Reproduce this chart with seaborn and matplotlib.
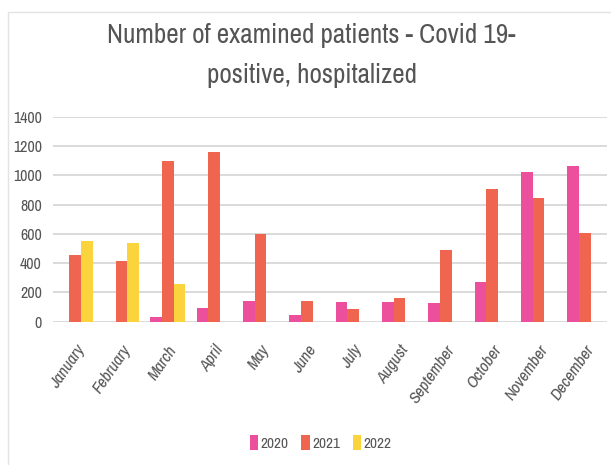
import numpy as np
import pandas as pd
import seaborn as sns
import matplotlib.pyplot as plt
from matplotlib.lines import Line2D
import warnings
warnings.filterwarnings("ignore")

months = ["January", "February", "March", "April", "May", "June", "July",
          "August", "September", "October", "November", "December"]
years = ["2020", "2021", "2022"]
values_2020 = [0, 0, 34, 91, 141, 48, 134, 134, 125, 273, 1020, 1065]
values_2021 = [455, 417, 1099, 1156, 599, 141, 86, 164, 487, 908, 847, 603]
values_2022 = [549, 535, 257, 0, 0, 0, 0, 0, 0, 0, 0, 0]
colors = ["#ec4f9c", "#f0654f", "#fbd33d"]

df = pd.DataFrame({
    "month": months * 3,
    "year": np.repeat(years, len(months)),
    "patients": values_2020 + values_2021 + values_2022,
})

sns.set_style("white")
plt.rcParams['font.family'] = ['Archivo Narrow', 'DejaVu Sans']
text_color = "#555555"

fig = plt.figure(figsize=(6.11, 4.65), dpi=100)
ax = fig.add_axes([0.0867, 0.308, 0.9068, 0.441])

sns.barplot(data=df, x="month", y="patients", hue="year", order=months,
            hue_order=years, palette=colors, width=0.75, linewidth=0,
            saturation=1, ax=ax)

ax.set_xlim(-0.48, 11.48)
ax.set_ylim(0, 1400)
ax.set_yticks(range(0, 1401, 200))
ax.grid(axis="y", color="#dadada", linewidth=1.4)
ax.set_axisbelow(True)
sns.despine(ax=ax, left=True, bottom=True)
ax.set_xlabel("")
ax.set_ylabel("")
ax.tick_params(axis="y", length=0, pad=8, labelsize=11.5, labelcolor=text_color)
ax.tick_params(axis="x", length=0, pad=15, labelsize=12, labelcolor=text_color)
for lbl in ax.get_xticklabels():
    lbl.set_rotation(55)
    lbl.set_ha("right")
    lbl.set_va("top")
    lbl.set_rotation_mode("anchor")
    lbl.set_style("italic")

fig.text(0.51, 0.95, "Number of examined patients - Covid 19-\npositive, hospitalized",
         ha="center", va="top", fontsize=19.5, color=text_color, linespacing=1.75)

ax.legend(loc="center", bbox_to_anchor=(0.525, 0.047), bbox_transform=fig.transFigure,
          ncol=3, frameon=False, fontsize=11, handlelength=0.55, handleheight=1.1,
          handletextpad=0.15, columnspacing=0.85, labelcolor=text_color)

# light frame of the original screenshot
fig.add_artist(Line2D([8 / 611, 1], [1 - 12 / 465, 1 - 12 / 465],
                      transform=fig.transFigure, color="#e3e3e3", linewidth=1))
fig.add_artist(Line2D([8 / 611, 8 / 611], [0, 1 - 12 / 465],
                      transform=fig.transFigure, color="#e3e3e3", linewidth=1))

fig.savefig("out.png", dpi=100)
plt.close(fig)
